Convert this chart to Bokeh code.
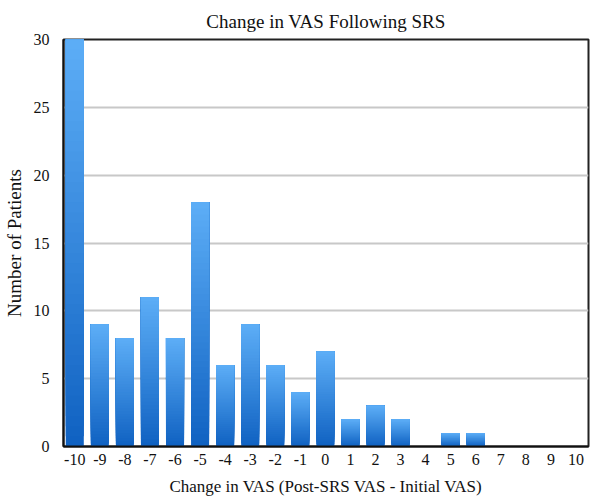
import numpy as np
from bokeh.plotting import figure
from bokeh.models import FixedTicker, Range1d
from bokeh.embed import file_html
from bokeh.resources import INLINE

# Data
changes = list(range(-10, 11))
patients = [30, 9, 8, 11, 8, 18, 6, 9, 6, 4, 7, 2, 3, 2, 0, 1, 1, 0, 0, 0, 0]
tick_labels = {c: str(c) for c in changes}

FONT = "Liberation Serif"
TOP = np.array([0x5c, 0xad, 0xf6])
BOT = np.array([0x10, 0x62, 0xc2])
N = 40
BAR_W = 0.72

p = figure(width=590, height=498, output_backend="svg", toolbar_location=None,
           x_range=Range1d(-10.45, 10.5), y_range=Range1d(0, 30),
           min_border_left=57, min_border_right=2, min_border_top=39, min_border_bottom=51)

p.title.text = "Change in VAS Following SRS"
p.title.align = "center"
p.title.text_font = FONT
p.title.text_font_size = "19px"
p.title.text_font_style = "normal"
p.title.text_color = "#111111"
p.title.standoff = 16

# gradient bars: overlapping slices from a fraction of each value up to the value
lefts, rights, bottoms, tops, colors = [], [], [], [], []
for c, v in zip(changes, patients):
    if v <= 0:
        continue
    for k in range(N):
        f = k / (N - 1)
        col = BOT + (TOP - BOT) * f
        lefts.append(c - BAR_W / 2)
        rights.append(c + BAR_W / 2)
        bottoms.append(v * k / N)
        tops.append(v)
        colors.append("#%02x%02x%02x" % tuple(int(round(x)) for x in col))

p.quad(left=lefts, right=rights, bottom=bottoms, top=tops, fill_color=colors,
       line_color=None)

p.xgrid.grid_line_color = None
p.ygrid.grid_line_color = "#c8c8c8"
p.ygrid.grid_line_width = 2

p.xaxis.ticker = FixedTicker(ticks=changes)
p.xaxis.major_label_overrides = tick_labels
p.yaxis.ticker = FixedTicker(ticks=[0, 5, 10, 15, 20, 25, 30])

for ax in (p.xaxis, p.yaxis):
    ax.major_tick_line_color = None
    ax.minor_tick_line_color = None
    ax.major_tick_in = 0
    ax.major_tick_out = 0
    ax.minor_tick_in = 0
    ax.minor_tick_out = 0
    ax.axis_line_color = "#111111"
    ax.axis_line_width = 2
    ax.major_label_text_font = FONT
    ax.major_label_text_font_size = "16px"
    ax.major_label_text_color = "#111111"
    ax.axis_label_text_font = FONT
    ax.axis_label_text_font_style = "normal"
    ax.axis_label_text_color = "#111111"

p.xaxis.axis_label_text_font_size = "17px"
p.yaxis.axis_label_text_font_size = "19px"
p.xaxis.axis_label = "Change in VAS (Post-SRS VAS - Initial VAS)"
p.yaxis.axis_label = "Number of Patients"
p.xaxis.major_label_standoff = 7
p.yaxis.major_label_standoff = 14
p.xaxis.axis_label_standoff = 9
p.yaxis.axis_label_standoff = 6

p.outline_line_color = "#222222"
p.outline_line_width = 2
p.background_fill_color = "white"
p.border_fill_color = "white"

open("out.html", "w").write(file_html(p, INLINE))
